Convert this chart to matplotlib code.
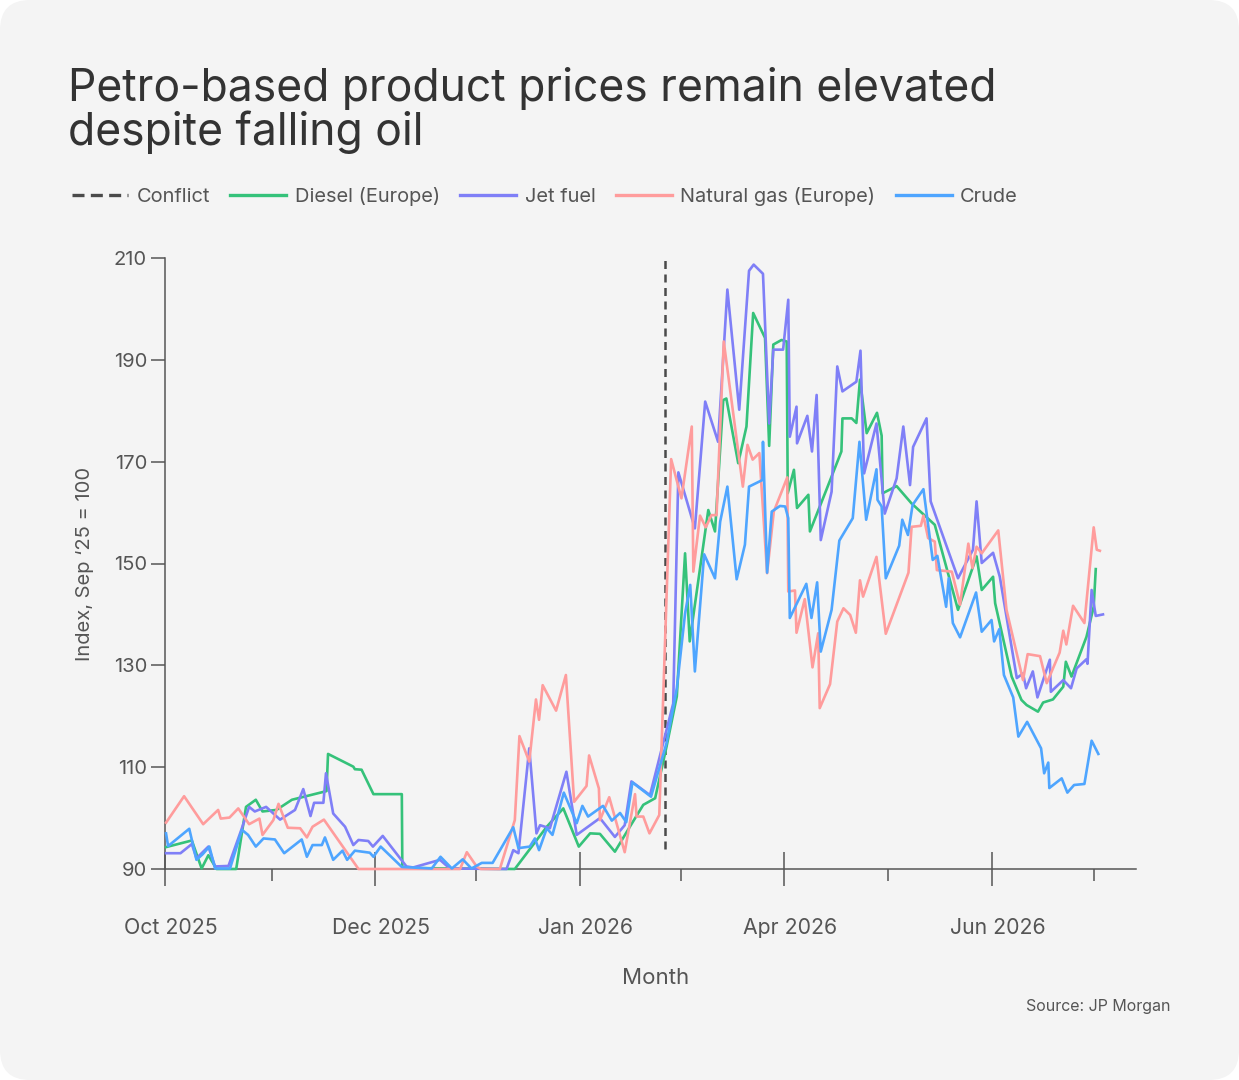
import matplotlib
matplotlib.use("Agg")
import matplotlib.pyplot as plt
import matplotlib.transforms as mtransforms
from matplotlib.lines import Line2D
from matplotlib.patches import FancyBboxPatch

plt.rcParams['font.family'] = ['Inter', 'DejaVu Sans']

# x positions are in "steps" along the timeline (one minor tick = ~20 steps)
diesel_x = [0.2, 5.2, 7.1, 8.4, 10.0, 13.8, 15.7, 17.6, 18.9, 21.6,
            24.6, 31.3, 31.6, 36.5, 36.8, 38.1, 40.4, 45.9, 46.0, 67.8,
            74.0, 77.2, 80.2, 82.4, 84.3, 87.2, 90.1, 92.7, 95.0, 97.2,
            99.2, 100.8, 101.7, 105.3, 106.6, 108.2, 108.8, 111.1, 112.7, 114.0,
            116.3, 117.1, 117.9, 119.5, 120.5, 120.7, 121.9, 122.5, 124.7, 125.0,
            128.2, 131.1, 131.3, 133.1, 134.0, 134.7, 136.0, 138.0, 138.9, 139.1,
            141.8, 144.7, 149.2, 153.7, 157.3, 158.3, 160.5, 160.9, 164.1, 166.0,
            167.0, 169.2, 170.2, 172.1, 174.1, 174.6, 175.7, 178.6, 180.0, 180.4]
diesel = [94.3, 95.6, 90.1, 92.7, 90.0, 90.0, 102.2, 103.6, 101.3, 101.6,
          103.6, 105.3, 112.6, 110.1, 109.6, 109.5, 104.7, 104.7, 90.2, 90.0,
          98.3, 101.9, 94.4, 97.0, 96.9, 93.4, 98.3, 102.6, 103.9, 114.0,
          123.9, 152.0, 134.7, 160.5, 156.3, 182.1, 182.4, 169.7, 176.9, 199.2,
          194.3, 173.1, 193.0, 193.9, 193.6, 163.8, 168.4, 160.9, 163.5, 156.3,
          164.5, 172.0, 178.5, 178.5, 177.6, 186.1, 175.6, 179.6, 175.1, 163.8,
          165.2, 161.8, 157.6, 140.9, 151.4, 144.8, 147.4, 142.2, 127.8, 123.2,
          122.2, 120.9, 122.7, 123.3, 125.8, 130.7, 127.8, 135.6, 141.5, 148.9]

jet_x = [0.2, 3.0, 5.2, 6.1, 8.4, 9.7, 12.3, 14.8, 16.3, 17.4,
         19.6, 22.3, 25.2, 26.8, 28.2, 28.9, 30.7, 31.2, 32.6, 34.9,
         36.5, 37.5, 39.4, 40.3, 42.2, 46.8, 48.1, 53.3, 55.2, 66.2,
         67.5, 68.5, 70.6, 72.0, 72.7, 74.6, 77.8, 79.8, 84.3, 87.2,
         89.1, 90.4, 94.0, 98.5, 99.5, 102.7, 104.7, 107.2, 109.0, 111.3,
         113.2, 114.1, 115.9, 117.1, 117.9, 119.8, 120.8, 121.1, 122.4, 122.5,
         124.5, 125.4, 126.3, 127.1, 129.2, 130.3, 131.3, 134.0, 134.8, 135.5,
         137.9, 139.5, 141.8, 143.1, 144.4, 145.0, 147.6, 148.4, 153.7, 156.6,
         157.3, 158.3, 160.5, 161.8, 165.1, 166.3, 166.9, 168.2, 169.1, 171.5,
         171.7, 174.1, 175.6, 176.7, 178.6, 178.8, 179.6, 180.4, 181.8]
jet = [93.1, 93.1, 94.9, 92.1, 94.4, 90.5, 90.6, 97.7, 102.2, 101.3,
       102.2, 99.7, 101.6, 105.7, 100.4, 103.0, 103.0, 108.8, 100.9, 98.3,
       94.7, 95.7, 95.5, 94.4, 96.5, 90.5, 90.3, 91.8, 90.1, 90.0,
       93.7, 93.1, 113.7, 97.0, 98.6, 98.0, 109.1, 96.7, 100.0, 96.3,
       98.6, 107.2, 104.5, 122.5, 167.9, 156.9, 181.8, 173.9, 203.8, 180.2,
       207.5, 208.7, 206.9, 177.5, 192.0, 192.0, 201.8, 174.9, 180.8, 173.6,
       179.0, 172.0, 183.1, 154.6, 164.1, 188.7, 183.8, 185.7, 191.8, 167.7,
       177.5, 159.8, 166.7, 176.9, 165.4, 172.9, 178.5, 162.2, 147.1, 152.7,
       162.2, 150.1, 152.1, 147.4, 127.5, 128.4, 125.5, 128.8, 123.7, 131.1,
       124.8, 127.1, 125.5, 129.4, 131.2, 130.3, 144.8, 139.7, 140.0]

gas_x = [0.2, 3.7, 7.4, 10.3, 10.8, 12.5, 14.2, 16.3, 18.3, 18.9,
         21.0, 22.0, 23.8, 26.2, 27.5, 28.6, 30.8, 37.5, 57.2, 58.5,
         60.4, 61.2, 64.9, 67.8, 68.7, 70.6, 71.9, 72.5, 73.2, 75.8,
         77.7, 79.3, 81.7, 82.2, 84.1, 84.3, 86.1, 89.1, 91.1, 91.4,
         92.7, 93.9, 95.8, 98.1, 100.1, 102.1, 102.4, 103.7, 104.8, 105.9,
         106.9, 108.3, 112.0, 112.9, 113.9, 115.2, 116.7, 118.0, 120.6, 120.8,
         122.1, 122.4, 124.0, 125.5, 126.6, 126.9, 128.9, 130.3, 131.5, 132.8,
         133.9, 134.7, 135.3, 137.9, 139.7, 144.1, 144.7, 146.5, 147.0, 147.9,
         149.2, 149.6, 152.5, 154.1, 155.7, 156.5, 157.3, 158.3, 161.5, 163.1,
         166.3, 167.2, 169.6, 170.9, 173.4, 174.1, 174.7, 176.0, 178.2, 180.0,
         180.6, 181.2]
gas = [99.1, 104.3, 98.8, 101.6, 99.9, 100.1, 101.9, 98.8, 99.9, 96.7,
       99.6, 102.8, 98.1, 98.0, 96.2, 98.3, 99.7, 90.0, 90.0, 93.3,
       90.5, 90.0, 90.0, 99.6, 116.1, 111.1, 123.3, 119.3, 126.1, 121.1,
       128.1, 103.2, 106.3, 112.3, 105.8, 99.6, 104.1, 93.3, 104.7, 100.3,
       100.3, 97.0, 100.6, 170.5, 162.8, 176.9, 148.4, 159.4, 157.1, 159.5,
       159.5, 193.6, 165.1, 173.3, 170.4, 171.7, 148.1, 160.2, 166.9, 144.5,
       144.7, 136.4, 143.0, 129.6, 136.3, 121.6, 126.3, 138.6, 141.2, 139.9,
       136.4, 146.7, 143.5, 151.3, 136.2, 148.2, 157.2, 157.4, 159.4, 155.0,
       154.3, 148.7, 148.4, 141.9, 153.9, 149.1, 153.3, 152.0, 156.5, 140.9,
       127.1, 132.2, 131.8, 126.5, 132.5, 136.8, 134.1, 141.7, 138.3, 157.1,
       152.7, 152.5]

crude_x = [0.2, 0.6, 4.7, 6.1, 7.3, 8.6, 9.7, 12.6, 14.9, 16.1,
           17.6, 19.1, 21.3, 23.1, 26.5, 27.5, 28.6, 30.4, 31.0, 32.6,
           34.4, 35.3, 36.8, 39.7, 40.4, 41.8, 45.9, 51.7, 53.4, 55.6,
           57.7, 59.4, 61.4, 63.5, 67.5, 68.5, 70.7, 71.7, 72.5, 74.0,
           75.1, 77.3, 79.8, 80.9, 82.0, 84.9, 86.6, 88.2, 89.4, 90.6,
           94.2, 97.2, 99.2, 100.8, 101.8, 102.7, 104.5, 106.6, 107.6, 109.0,
           110.8, 112.4, 113.2, 115.8, 115.9, 116.7, 117.6, 119.2, 120.2, 120.8,
           121.1, 124.3, 125.3, 126.4, 127.1, 129.2, 130.7, 133.3, 134.6, 135.9,
           137.9, 138.1, 138.9, 139.7, 142.3, 142.9, 144.0, 144.9, 147.0, 148.8,
           149.7, 151.4, 151.9, 152.7, 154.1, 157.2, 158.3, 160.2, 160.7, 161.7,
           162.6, 164.4, 165.4, 167.1, 169.8, 170.4, 171.2, 171.4, 173.8, 174.9,
           176.2, 178.2, 179.6, 180.9]
crude = [97.0, 94.5, 97.9, 91.8, 92.9, 94.4, 90.1, 90.1, 97.7, 96.7,
         94.4, 96.0, 95.8, 93.1, 95.8, 92.4, 94.7, 94.7, 96.2, 91.8,
         93.6, 91.8, 93.6, 93.2, 92.4, 94.4, 90.4, 90.1, 92.4, 90.1,
         91.9, 90.1, 91.2, 91.2, 98.2, 94.1, 94.4, 96.0, 93.7, 98.0,
         96.7, 105.0, 99.0, 102.4, 100.3, 102.4, 99.5, 101.0, 99.2, 107.0,
         104.2, 114.7, 125.5, 140.2, 145.8, 128.8, 151.8, 147.1, 158.2, 165.1,
         146.9, 153.7, 165.1, 166.4, 173.9, 148.2, 160.2, 161.3, 161.2, 158.9,
         139.3, 146.0, 139.3, 146.3, 132.7, 140.9, 154.5, 158.9, 173.9, 158.6,
         168.5, 162.5, 161.2, 147.1, 153.5, 158.6, 155.6, 161.5, 164.6, 150.7,
         151.5, 141.5, 147.1, 138.3, 135.5, 144.3, 136.6, 138.9, 134.7, 137.1,
         128.1, 123.7, 116.0, 118.9, 113.7, 108.8, 110.9, 105.9, 107.8, 105.0,
         106.5, 106.7, 115.2, 112.6]

conflict_x = 96.9
conflict_range = (94, 210)

major_ticks = [0, 40.7, 80.4, 120, 160.3]
major_labels = ["Oct 2025", "Dec 2025", "Jan 2026", "Apr 2026", "Jun 2026"]
minor_ticks = [20.8, 60.3, 100, 140.1, 180]
y_ticks = [90, 110, 130, 150, 170, 190, 210]

c_diesel = "#35c27a"
c_jet = "#7f7ff7"
c_gas = "#ff9c9c"
c_crude = "#4ea5ff"
c_axis = "#555555"

fig = plt.figure(figsize=(12.39, 10.8), dpi=100)
fig.patch.set_facecolor("white")
card = FancyBboxPatch((0, 0), 1239, 1080, boxstyle="round,pad=0,rounding_size=30",
                      transform=None, facecolor="#f4f4f4", edgecolor="none", zorder=-10)
fig.patches.append(card)

ax = fig.add_axes([165 / 1239, 1 - 869 / 1080, 971 / 1239, 611 / 1080])
ax.set_facecolor("none")

ax.vlines(conflict_x, conflict_range[0], conflict_range[1], colors="#4a4a4a",
          linestyles=(0, (3.2, 2.2)), linewidth=1.8, zorder=2)
lw = 1.9
ax.plot(diesel_x, diesel, color=c_diesel, lw=lw, clip_on=False, zorder=3)
ax.plot(jet_x, jet, color=c_jet, lw=lw, clip_on=False, zorder=3)
ax.plot(gas_x, gas, color=c_gas, lw=lw, clip_on=False, zorder=3)
ax.plot(crude_x, crude, color=c_crude, lw=lw, clip_on=False, zorder=3)

ax.set_xlim(0, 188.2)
ax.set_ylim(90, 210)

for s in ["top", "right"]:
    ax.spines[s].set_visible(False)
for s in ["left", "bottom"]:
    ax.spines[s].set_color(c_axis)
    ax.spines[s].set_linewidth(1.1)

ax.set_xticks(major_ticks)
ax.set_xticklabels(major_labels)
ax.set_xticks(minor_ticks, minor=True)
ax.set_yticks(y_ticks)
ax.tick_params(axis="x", which="major", direction="inout", length=25, width=1.1,
               color=c_axis, labelcolor=c_axis, labelsize=15.3, pad=23)
ax.tick_params(axis="x", which="minor", direction="out", length=8.5, width=1.1,
               color=c_axis)
ax.tick_params(axis="y", direction="out", length=10, width=1.1, color=c_axis,
               labelcolor=c_axis, labelsize=14.5, pad=3)

# month labels sit a little to the right of their ticks in the original
shift = mtransforms.ScaledTranslation(6 / 100, 0, fig.dpi_scale_trans)
for lab in ax.get_xticklabels():
    lab.set_transform(lab.get_transform() + shift)

ax.set_xlabel("Month", fontsize=16, color=c_axis)
ax.xaxis.label.set_va("center")
ax.xaxis.set_label_coords(0.5057, -0.178)
ax.set_ylabel("Index, Sep \u201825 = 100", fontsize=14.5, color=c_axis)
ax.yaxis.label.set_va("center")
ax.yaxis.set_label_coords(-0.0824, 0.5)

fig.text(68 / 1239, 1 - 67 / 1080,
         "Petro-based product prices remain elevated\ndespite falling oil",
         fontsize=32, color="#333333", va="top", ha="left", linespacing=1.0)

handles = [
    Line2D([], [], color="#4a4a4a", lw=2.4, linestyle=(0, (3.6, 1.9))),
    Line2D([], [], color=c_diesel, lw=2.4),
    Line2D([], [], color=c_jet, lw=2.4),
    Line2D([], [], color=c_gas, lw=2.4),
    Line2D([], [], color=c_crude, lw=2.4),
]
labels = ["Conflict", "Diesel (Europe)", "Jet fuel", "Natural gas (Europe)", "Crude"]
leg = fig.legend(handles, labels, loc="center left", bbox_to_anchor=(72 / 1239, 1 - 196 / 1080),
                 ncol=5, frameon=False, fontsize=14.4, handlelength=2.8, handletextpad=0.42,
                 columnspacing=1.02, borderaxespad=0, borderpad=0)
for t in leg.get_texts():
    t.set_color(c_axis)

fig.text(1171 / 1239, 1 - 1006 / 1080, "Source: JP Morgan", fontsize=11.5,
         color=c_axis, ha="right", va="center")

fig.savefig("out.png", dpi=100)
